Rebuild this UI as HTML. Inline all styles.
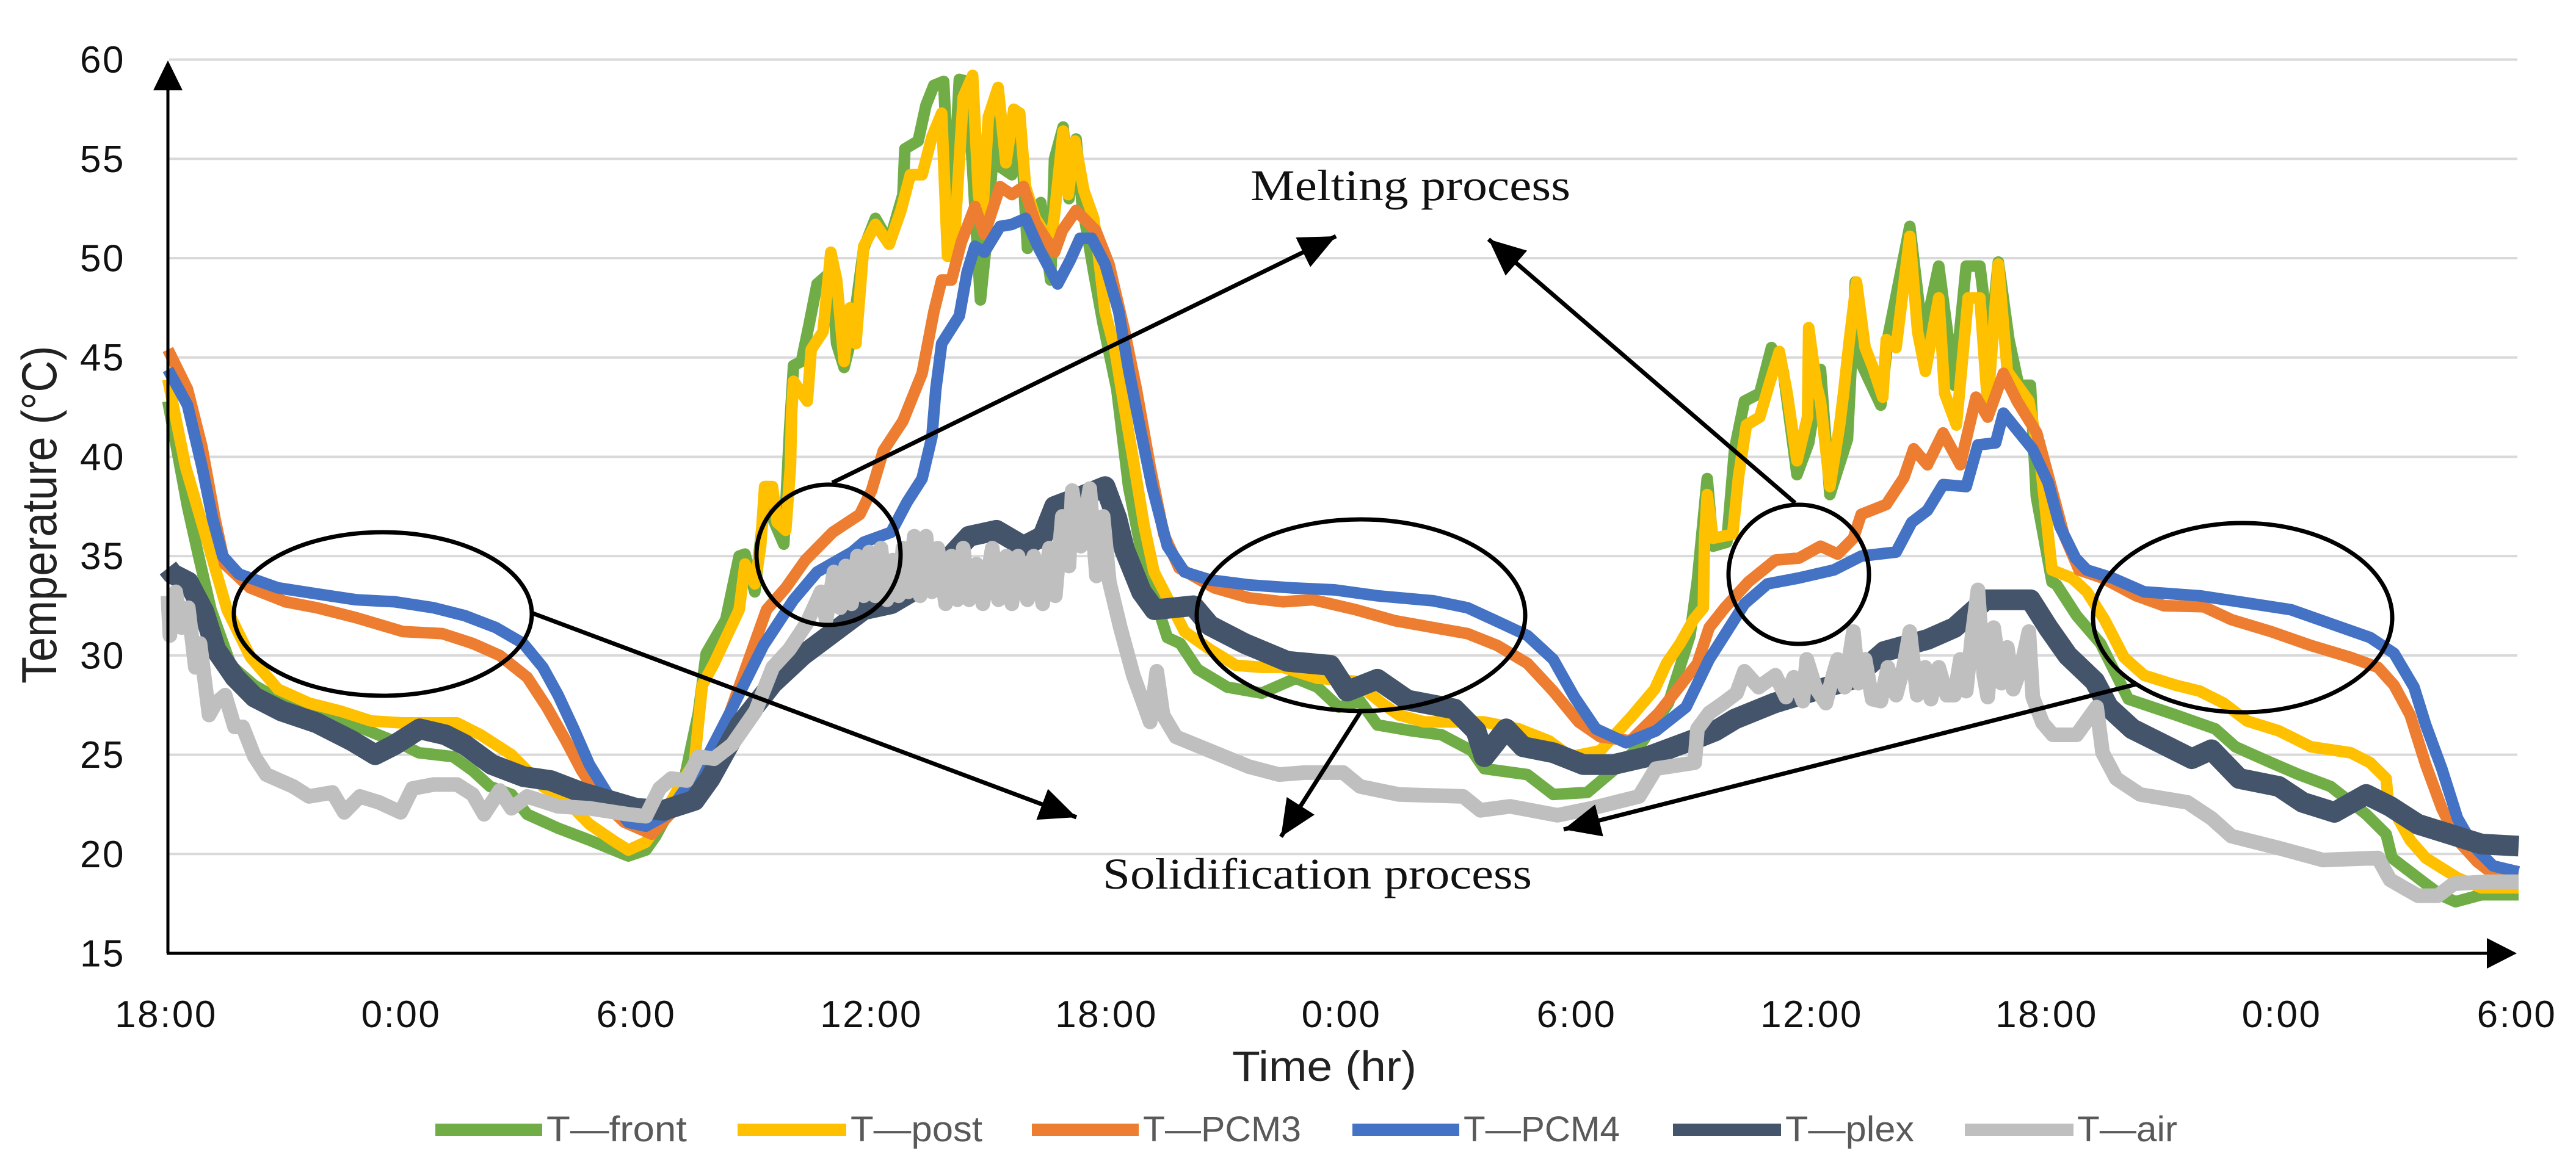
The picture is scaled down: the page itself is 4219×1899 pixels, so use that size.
<!DOCTYPE html>
<html lang="en">
<head>
<meta charset="utf-8">
<title>Temperature over time</title>
<style>
html,body{margin:0;padding:0;background:#fff;width:4219px;height:1899px;overflow:hidden}
svg{display:block}
text{font-family:"Liberation Sans",sans-serif}
.tick{font-size:62px;fill:#111;letter-spacing:2.5px}
.legend-label{font-size:58px;fill:#595959}
.note{font-family:"Liberation Serif",serif;font-size:72px;fill:#111}
</style>
</head>
<body>
<svg id="chart" xmlns="http://www.w3.org/2000/svg" width="4219" height="1899" viewBox="0 0 4219 1899">
  <defs>
    <marker id="arrow-head" markerUnits="userSpaceOnUse" markerWidth="62" markerHeight="54" refX="60" refY="27" orient="auto">
      <polygon points="0,0 60,27 0,54" fill="#000"></polygon>
    </marker>
  </defs>
  <rect width="4219" height="1899" fill="#fff"></rect>
  <g id="grid-layer"></g>
  <g id="tick-layer"></g>
  <g id="series-layer"></g>

  <g>
    <line x1="275" y1="1562" x2="275" y2="140" stroke="#000" stroke-width="5"></line>
    <polygon points="275,99 251,148 299,148" fill="#000"></polygon>
    <line x1="273" y1="1562" x2="4080" y2="1562" stroke="#000" stroke-width="5"></line>
    <polygon points="4122,1562 4073,1537 4073,1587" fill="#000"></polygon>
  </g>

  <text transform="translate(92,1120) rotate(-90) scale(1.06,1.19)" font-size="68" fill="#222">Temperature (°C)</text>
  <text x="2018" y="1771" font-size="70" fill="#222" textLength="302" lengthAdjust="spacingAndGlyphs">Time (hr)</text>

  <g fill="none" stroke="#000">
    <ellipse cx="627" cy="1006" rx="244" ry="134" stroke-width="7"></ellipse>
    <ellipse cx="1357" cy="909" rx="118" ry="115" stroke-width="7"></ellipse>
    <ellipse cx="2229" cy="1008" rx="269" ry="157" stroke-width="7"></ellipse>
    <ellipse cx="2946" cy="941" rx="115" ry="114" stroke-width="7"></ellipse>
    <ellipse cx="3673" cy="1012" rx="245" ry="155" stroke-width="7"></ellipse>
    <line x1="1363" y1="791" x2="2188" y2="387" stroke-width="7" marker-end="url(#arrow-head)"></line>
    <line x1="2940" y1="824" x2="2438" y2="392" stroke-width="7" marker-end="url(#arrow-head)"></line>
    <line x1="873" y1="1005" x2="1763" y2="1339" stroke-width="7" marker-end="url(#arrow-head)"></line>
    <line x1="2228" y1="1167" x2="2098" y2="1371" stroke-width="7" marker-end="url(#arrow-head)"></line>
    <line x1="3499" y1="1121" x2="2561" y2="1359" stroke-width="7" marker-end="url(#arrow-head)"></line>
  </g>
  <text class="note" x="2048" y="328" textLength="524" lengthAdjust="spacingAndGlyphs">Melting process</text>
  <text class="note" x="1806" y="1456" textLength="703" lengthAdjust="spacingAndGlyphs">Solidification process</text>

  <g>
    <g>
      <rect x="713" y="1841" width="175" height="20" fill="#70ad47"></rect>
      <text class="legend-label" x="895" y="1870" textLength="230" lengthAdjust="spacingAndGlyphs">T—front</text>
    </g>
    <g>
      <rect x="1208" y="1841" width="178" height="20" fill="#ffc000"></rect>
      <text class="legend-label" x="1393" y="1870" textLength="216" lengthAdjust="spacingAndGlyphs">T—post</text>
    </g>
    <g>
      <rect x="1690" y="1841" width="175" height="20" fill="#ed7d31"></rect>
      <text class="legend-label" x="1872" y="1870" textLength="259" lengthAdjust="spacingAndGlyphs">T—PCM3</text>
    </g>
    <g>
      <rect x="2215" y="1841" width="175" height="20" fill="#4472c4"></rect>
      <text class="legend-label" x="2397" y="1870" textLength="256" lengthAdjust="spacingAndGlyphs">T—PCM4</text>
    </g>
    <g>
      <rect x="2740" y="1841" width="177" height="20" fill="#44546a"></rect>
      <text class="legend-label" x="2924" y="1870" textLength="211" lengthAdjust="spacingAndGlyphs">T—plex</text>
    </g>
    <g>
      <rect x="3218" y="1841" width="178" height="20" fill="#bfbfbf"></rect>
      <text class="legend-label" x="3402" y="1870" textLength="164" lengthAdjust="spacingAndGlyphs">T—air</text>
    </g>
  </g>
</svg>

<script>
// Axis categories and tick labels
const yTickValues = [60,55,50,45,40,35,30,25,20,15];
const xTickLabels = ["18:00","0:00","6:00","12:00","18:00","0:00","6:00","12:00","18:00","0:00","6:00"];
const xTickHours = [0,6,12,18,24,30,36,42,48,54,60];

// Series readings as [hours since first 18:00, temperature in °C]
const frontData = [[0,42.8],[0.5,37.5],[0.75,35.3],[1.1,32.3],[1.61,29.5],[2.2,28.5],[3,27.6],[4,27],[5,26.3],[6,25.5],[6.4,25.1],[7.28,24.9],[7.78,24.2],[8.22,23.4],[8.77,23],[9.17,22],[9.96,21.3],[10.76,20.7],[11.75,19.9],[12.2,20.2],[12.45,20.9],[13.14,23.4],[13.54,27.1],[13.74,30.1],[14.24,31.8],[14.58,35],[14.73,35.1],[14.98,33.2],[15.28,38.5],[15.48,36.7],[15.72,35.6],[15.87,41.4],[15.97,44.6],[16.17,44.8],[16.37,46.7],[16.57,48.7],[16.92,49.3],[17.07,45.7],[17.26,44.5],[17.46,46.1],[17.76,50.5],[18.06,52],[18.41,50.8],[18.76,53.2],[18.81,55.5],[19.15,55.9],[19.35,57.7],[19.55,58.7],[19.8,58.9],[19.95,53],[20.1,55.2],[20.2,59],[20.4,58.9],[20.55,54.2],[20.74,47.9],[20.89,50.8],[21.14,57.3],[21.24,54.6],[21.54,54.2],[21.74,57.3],[21.94,50.5],[22.28,52.8],[22.53,48.9],[22.63,55],[22.85,56.6],[23,53],[23.18,56],[23.33,52.8],[23.63,49.3],[23.87,46.7],[24.22,43.4],[24.52,38.5],[24.82,35.5],[25.07,33.6],[25.51,30.9],[25.84,30.6],[26.28,29.3],[27.04,28.4],[27.92,28.1],[28.79,28.85],[29.34,28.4],[29.89,27.4],[30.43,27.7],[30.87,26.5],[31.75,26.2],[32.51,26],[33.28,25.2],[33.6,24.3],[34.7,24],[35.36,23],[36.23,23.1],[36.89,24.2],[37.55,25.4],[38.3,27.6],[38.85,31],[39.04,33.8],[39.29,38.9],[39.44,35.5],[39.79,35.7],[39.99,40.4],[40.24,42.8],[40.63,43.2],[40.93,45.5],[41.23,44.3],[41.58,39.1],[41.88,40.7],[42.18,44.4],[42.42,38.1],[42.87,40.9],[43.07,48.8],[43.22,44.7],[43.72,42.6],[43.91,46.1],[44.46,51.6],[44.8,45.9],[45.2,49.6],[45.6,43.6],[45.9,49.6],[46.25,49.6],[46.5,45.5],[46.72,49.8],[46.99,45.9],[47.24,43.6],[47.54,43.6],[47.69,38],[48.09,33.7],[48.21,33.55],[48.72,32],[49.33,30.6],[50.04,27.8],[51.25,27],[52.26,26.3],[52.77,25.4],[53.68,24.6],[54.39,24],[55.2,23.4],[56.11,22],[56.62,21],[56.77,19.8],[57.63,18.5],[58.04,17.9],[58.39,17.6],[59.05,17.95],[60,17.95]];

const postData = [[0,43.9],[0.45,39.5],[1.07,35.3],[1.51,32.3],[2.11,29.9],[2.81,28.3],[3.6,27.6],[4.4,27.2],[5.19,26.7],[5.99,26.6],[7.38,26.6],[7.98,26],[8.77,25],[9.57,23.4],[10.16,22.7],[10.76,21.5],[11.35,20.7],[11.75,20.2],[12.2,20.6],[12.55,21.6],[13.14,23.7],[13.44,24.6],[13.64,28.5],[13.94,29.6],[14.39,31.5],[14.58,32.3],[14.73,34.6],[14.98,33.6],[15.13,35.5],[15.23,38.5],[15.43,38.5],[15.55,36.7],[15.77,36.3],[15.89,39.5],[15.92,42.2],[15.97,43.8],[16.32,42.8],[16.42,45.4],[16.72,46.3],[16.92,50.3],[17.07,48.9],[17.26,44.8],[17.41,47.5],[17.56,45.7],[17.76,50.6],[18.06,51.7],[18.41,50.7],[18.71,52.4],[18.95,54.2],[19.25,54.2],[19.5,56.1],[19.75,57.3],[19.9,50.1],[20.05,50.1],[20.3,58.1],[20.54,59.2],[20.69,53.2],[20.79,52],[20.94,57.1],[21.19,58.6],[21.39,54.8],[21.59,57.5],[21.74,57.3],[21.89,53.6],[22.14,52],[22.53,50.8],[22.63,52.2],[22.85,56.4],[22.98,53.2],[23.15,55.9],[23.38,53.4],[23.63,52],[23.73,50.5],[23.92,47.3],[24.17,45.4],[24.42,42.4],[24.67,39.5],[24.92,36.5],[25.17,34.2],[25.51,32.9],[25.95,31.2],[26.6,30.3],[27.26,29.5],[27.92,29.4],[28.46,29.4],[29.34,28.85],[30.3,28.7],[30.98,27.6],[31.42,27],[32.07,26.65],[33.6,26.65],[34.48,26.3],[35.25,25.7],[35.8,24.9],[36.56,25.2],[37.35,26.9],[37.95,28.3],[38.25,29.6],[38.6,30.6],[38.94,31.8],[39.19,32.4],[39.22,35.7],[39.29,38.1],[39.44,35.9],[39.94,36.1],[40.09,39],[40.29,41.6],[40.63,42],[40.88,43.7],[41.13,45.3],[41.33,43.2],[41.58,39.8],[41.85,42],[41.88,46.5],[42.08,43.6],[42.18,42.8],[42.42,38.5],[42.67,41.6],[42.77,43.2],[42.92,45.9],[43.1,48.8],[43.32,45.5],[43.52,44.5],[43.77,43],[43.86,45.9],[44.11,45.5],[44.46,51.1],[44.66,46.3],[44.86,44.3],[45.2,48],[45.35,43.2],[45.65,41.6],[45.95,48],[46.25,48],[46.45,42.6],[46.72,49.7],[46.95,44.3],[47.5,42.8],[47.8,39.6],[48.09,34.3],[48.6,33.9],[48.98,33.2],[49.43,31.8],[49.93,29.9],[50.44,29],[51.25,28.5],[51.86,28.2],[52.47,27.6],[53.07,26.7],[53.88,26.2],[54.7,25.4],[55.71,25.1],[56.21,24.6],[56.62,23.8],[56.67,22.7],[57.23,20.7],[57.63,19.8],[58.44,18.8],[59.05,18.3],[60,18.3]];

const pcm3Data = [[0,45.4],[0.5,43.4],[0.87,40.5],[1.2,36.9],[1.45,34.6],[2.1,33.4],[3,32.7],[3.8,32.4],[4.8,31.9],[6,31.2],[7,31.1],[7.78,30.6],[8.47,30],[9.17,28.9],[9.67,27.4],[10.16,25.7],[10.56,24.2],[11.06,22.7],[11.65,21.6],[12.35,21],[12.95,22.3],[13.64,24.2],[14.34,27.1],[15.28,32.3],[15.77,33.4],[16.27,34.8],[16.97,36.2],[17.66,37.1],[17.96,38.3],[18.26,40.3],[18.76,41.8],[19.25,44.2],[19.55,47.3],[19.75,48.9],[20,48.9],[20.25,50.8],[20.6,52.6],[20.84,51.2],[21.24,53.6],[21.54,53.2],[21.84,53.6],[22.14,51.8],[22.63,50.3],[22.83,51.4],[23.18,52.4],[23.68,51.4],[24.02,49.7],[24.42,46.3],[24.72,43.4],[25.07,39.5],[25.42,36.1],[25.81,34.4],[26.71,33.4],[27.59,32.9],[28.46,32.7],[29.23,32.8],[30.32,32.3],[31.31,31.75],[32.3,31.4],[33.17,31.1],[33.93,30.5],[34.7,29.6],[35.36,28.2],[36.01,26.65],[36.56,25.9],[37.33,25.7],[38.05,27.1],[38.65,28.6],[39.04,29.6],[39.34,31.4],[39.74,32.4],[40.34,33.7],[41.03,34.8],[41.63,34.9],[42.18,35.5],[42.62,35.1],[43.02,35.9],[43.22,37.1],[43.86,37.6],[44.31,38.95],[44.56,40.4],[44.91,39.6],[45.31,41.2],[45.75,39.6],[46.15,43],[46.45,42],[46.85,44.2],[47.2,42.8],[47.7,41.2],[48.04,38.7],[48.39,36.1],[48.78,34.3],[49.38,33.9],[50.24,33],[50.95,32.5],[51.96,32.45],[52.67,31.8],[53.68,31.2],[54.7,30.5],[55.71,29.9],[56.41,29.4],[56.82,28.5],[57.23,27],[57.63,24.5],[58.04,22.3],[58.44,20.7],[58.95,19.6],[59.35,19],[60,19]];

const pcm4Data = [[0,44.4],[0.5,42.6],[0.87,39.5],[1.14,36.9],[1.4,35],[1.81,34.1],[2.81,33.4],[3.8,33.1],[4.8,32.8],[5.79,32.7],[6.78,32.4],[7.58,32],[8.37,31.4],[9.07,30.6],[9.57,29.4],[9.96,28],[10.36,26.3],[10.76,24.5],[11.26,22.9],[11.75,21.6],[12.2,21.4],[12.75,22],[13.74,24.8],[14.34,27.1],[15.2,30.5],[15.97,32.8],[16.57,34.2],[17.46,35.2],[17.76,35.7],[18.46,36.2],[18.86,37.7],[19.25,38.9],[19.5,41],[19.6,43.4],[19.75,45.7],[20.2,47.1],[20.4,49.3],[20.6,50.6],[20.84,50.3],[21.24,51.6],[21.54,51.7],[21.89,52],[22.23,50.5],[22.71,48.7],[23.03,49.9],[23.28,51],[23.58,51],[23.92,49.7],[24.27,47.3],[24.52,44.4],[24.82,41.4],[25.12,38.5],[25.51,35.5],[25.95,34.2],[26.6,33.8],[27.59,33.55],[28.68,33.4],[29.78,33.3],[30.87,33],[32.3,32.75],[33.17,32.4],[33.83,31.8],[34.7,31],[35.36,29.8],[35.9,27.9],[36.45,26.3],[37.22,25.6],[37.98,26.2],[38.75,27.4],[39.34,29.8],[40.24,32.6],[40.83,33.6],[41.63,33.9],[42.52,34.3],[43.22,35],[44.11,35.2],[44.51,36.7],[44.91,37.3],[45.31,38.6],[45.9,38.5],[46.2,40.6],[46.65,40.7],[46.85,42.2],[47.59,40.4],[47.99,38.7],[48.29,36.5],[48.69,34.9],[48.98,34.3],[49.63,33.9],[50.44,33.2],[51.86,33],[52.87,32.7],[54.19,32.3],[55.2,31.6],[56.21,30.9],[56.82,30.1],[57.33,28.4],[57.63,26.5],[58.04,24.3],[58.44,21.8],[58.85,20.4],[59.35,19.4],[60,19.1]];

const plexData = [[0,34.4],[0.12,34.1],[0.52,33.7],[0.92,32.2],[1.22,30.3],[1.71,28.9],[2.21,27.9],[2.9,27.2],[3.8,26.6],[4.7,25.7],[5.29,25],[5.79,25.5],[6.43,26.3],[7.08,26],[7.58,25.5],[8.27,24.5],[9.07,23.9],[9.77,23.7],[10.56,23.1],[11.26,22.7],[11.95,22.3],[12.65,22.2],[13.44,22.7],[13.84,23.8],[14.6,26.5],[15.44,28.6],[16.2,30],[17.76,32.3],[18.46,32.6],[19.15,33.4],[19.8,34.6],[20.45,36],[21.15,36.3],[21.84,35.5],[22.33,36],[22.63,37.5],[23.3,38],[23.92,38.5],[24.22,36.9],[24.42,35.3],[24.85,33.2],[25.18,32.3],[26.17,32.5],[26.6,31.5],[27.48,30.6],[28.57,29.7],[29.67,29.5],[30.1,28.2],[30.87,28.8],[31.64,27.75],[32.84,27.3],[33.39,26.2],[33.6,24.9],[34.16,26.3],[34.59,25.4],[35.36,25.1],[36.13,24.5],[36.89,24.5],[37.77,24.9],[38.86,25.7],[39.5,26.2],[40,26.8],[41,27.6],[43,28.8],[43.81,30.2],[44.91,30.8],[45.6,31.4],[46.4,32.8],[46.9,32.8],[47.54,32.8],[47.99,31.4],[48.49,30],[49.18,28.7],[49.53,27.4],[50.14,26.3],[50.85,25.6],[51.66,24.8],[52.16,25.25],[52.87,23.8],[53.88,23.4],[54.49,22.6],[55.3,22.1],[56.11,23],[56.72,22.4],[57.43,21.5],[58.24,21],[59.05,20.5],[60,20.4]];

const airData = [[0,33],[0.05,31],[0.2,33.2],[0.35,31.4],[0.52,32.4],[0.7,29.4],[0.82,30.6],[1.05,27],[1.22,27.6],[1.46,28],[1.7,26.4],[1.91,26.4],[2.21,24.9],[2.51,24],[3.2,23.4],[3.6,22.9],[4.2,23.1],[4.5,22.1],[4.9,22.9],[5.39,22.6],[5.94,22.1],[6.24,23.3],[6.78,23.5],[7.38,23.5],[7.78,23],[8.07,22],[8.47,23.2],[8.77,22.3],[9.17,22.9],[9.96,22.4],[10.76,22.3],[11.75,22],[12.2,21.9],[12.55,23.3],[12.85,23.8],[13.24,23.7],[13.54,24.9],[13.94,24.8],[14.4,25.5],[15,27.2],[15.44,29.4],[15.86,30.3],[16.3,31.6],[16.67,33.2],[16.8,31.8],[17,34.2],[17.16,32.4],[17.3,34.5],[17.45,32.6],[17.6,35],[17.76,33],[17.9,35.2],[18.05,33],[18.2,35.4],[18.35,32.8],[18.5,34.8],[18.65,33],[18.76,35.4],[18.9,33.2],[19.05,36],[19.2,33],[19.35,36],[19.5,33.2],[19.65,35.4],[19.85,32.6],[20,35],[20.15,32.8],[20.3,35.4],[20.45,32.8],[20.64,34.6],[20.8,32.6],[21.04,35.4],[21.2,32.8],[21.4,35],[21.54,32.6],[21.7,35],[21.94,32.8],[22.1,35],[22.33,32.6],[22.5,35.4],[22.65,33],[22.83,37],[23,34.5],[23.08,38.3],[23.3,35.5],[23.53,38.4],[23.7,34],[23.87,37],[24.03,33.7],[24.31,31.4],[24.64,29],[25.07,26.65],[25.24,29.2],[25.4,27],[25.73,25.9],[26.6,25.2],[27.59,24.4],[28.36,24],[29.01,24.1],[30,24.1],[30.43,23.4],[31.42,23],[33.06,22.9],[33.5,22.2],[34.26,22.4],[35.47,21.95],[36.34,22.3],[37.55,22.9],[37.98,24.3],[38.97,24.6],[39.04,26.3],[39.34,27.1],[39.7,27.6],[40.04,28.1],[40.24,29.2],[40.6,28.4],[41.03,29],[41.3,27.9],[41.5,28.9],[41.73,27.7],[41.83,29.8],[42.05,28.4],[42.32,27.6],[42.5,29],[42.62,29.8],[42.8,28.4],[43.02,31.2],[43.15,28.6],[43.32,29.8],[43.5,27.8],[43.72,27.7],[43.9,29.4],[44.11,28],[44.3,29.4],[44.46,31.2],[44.65,28],[44.85,29.4],[45,27.8],[45.2,29.4],[45.4,28],[45.6,28],[45.75,29.8],[45.9,28.2],[46.05,31],[46.2,33.3],[46.35,29],[46.45,27.9],[46.6,31.4],[46.8,28.6],[46.95,30.4],[47.1,28.3],[47.3,29.4],[47.5,31.2],[47.6,27.9],[47.85,26.6],[48.11,26],[48.72,26],[49.23,27.4],[49.38,25.1],[49.73,23.8],[50.34,23],[51.55,22.6],[52.16,21.8],[52.67,20.9],[53.88,20.3],[55,19.7],[56.41,19.8],[56.72,18.7],[57.43,17.9],[57.94,17.9],[58.34,18.5],[59.15,18.6],[60,18.6]];

// Axis functions
function xScale(hours) {
  return 275 + hours * (3850 / 60);
}
function yScale(temp) {
  return 1562 - (temp - 15) * (1464.4 / 45);
}

const SVG_NS = 'http://www.w3.org/2000/svg';
const gridLayer = document.getElementById('grid-layer');
const tickLayer = document.getElementById('tick-layer');
const seriesLayer = document.getElementById('series-layer');

// Gridlines and y tick labels
yTickValues.forEach(function (value) {
  if (value !== 15) {
    const gridLine = document.createElementNS(SVG_NS, 'line');
    
    
    gridLine.setAttribute('x1', 277);
    gridLine.setAttribute('x2', 4123);
    gridLine.setAttribute('y1', yScale(value));
    gridLine.setAttribute('y2', yScale(value));
    gridLine.setAttribute('stroke', '#d9d9d9');
    gridLine.setAttribute('stroke-width', 4);
    gridLayer.appendChild(gridLine);
  }
  const yLabel = document.createElementNS(SVG_NS, 'text');
  
  
  yLabel.setAttribute('class', 'tick');
  yLabel.setAttribute('x', 205);
  yLabel.setAttribute('y', yScale(value) + 21.5);
  yLabel.setAttribute('text-anchor', 'end');
  yLabel.textContent = value;
  tickLayer.appendChild(yLabel);
});

// X tick labels
xTickLabels.forEach(function (label, i) {
  const xLabel = document.createElementNS(SVG_NS, 'text');
  
  
  xLabel.setAttribute('class', 'tick');
  xLabel.setAttribute('x', xScale(xTickHours[i]) - 3);
  xLabel.setAttribute('y', 1683);
  xLabel.setAttribute('text-anchor', 'middle');
  xLabel.textContent = label;
  tickLayer.appendChild(xLabel);
});

// Series lines, back to front
function drawSeries(points, color, width, name) {
  const path = document.createElementNS(SVG_NS, 'polyline');
  
  
  path.setAttribute('points', points.map(function (p) {
    return xScale(p[0]).toFixed(1) + ',' + yScale(p[1]).toFixed(1);
  }).join(' '));
  path.setAttribute('fill', 'none');
  path.setAttribute('stroke', color);
  path.setAttribute('stroke-width', width);
  path.setAttribute('stroke-linejoin', 'round');
  path.setAttribute('stroke-linecap', 'butt');
  seriesLayer.appendChild(path);
}
drawSeries(frontData, '#70ad47', 19, 'series-t-front');
drawSeries(postData, '#ffc000', 19, 'series-t-post');
drawSeries(pcm3Data, '#ed7d31', 19, 'series-t-pcm3');
drawSeries(pcm4Data, '#4472c4', 19, 'series-t-pcm4');
drawSeries(plexData, '#44546a', 34, 'series-t-plex');
drawSeries(airData, '#bfbfbf', 24, 'series-t-air');
</script>
</body>
</html>
